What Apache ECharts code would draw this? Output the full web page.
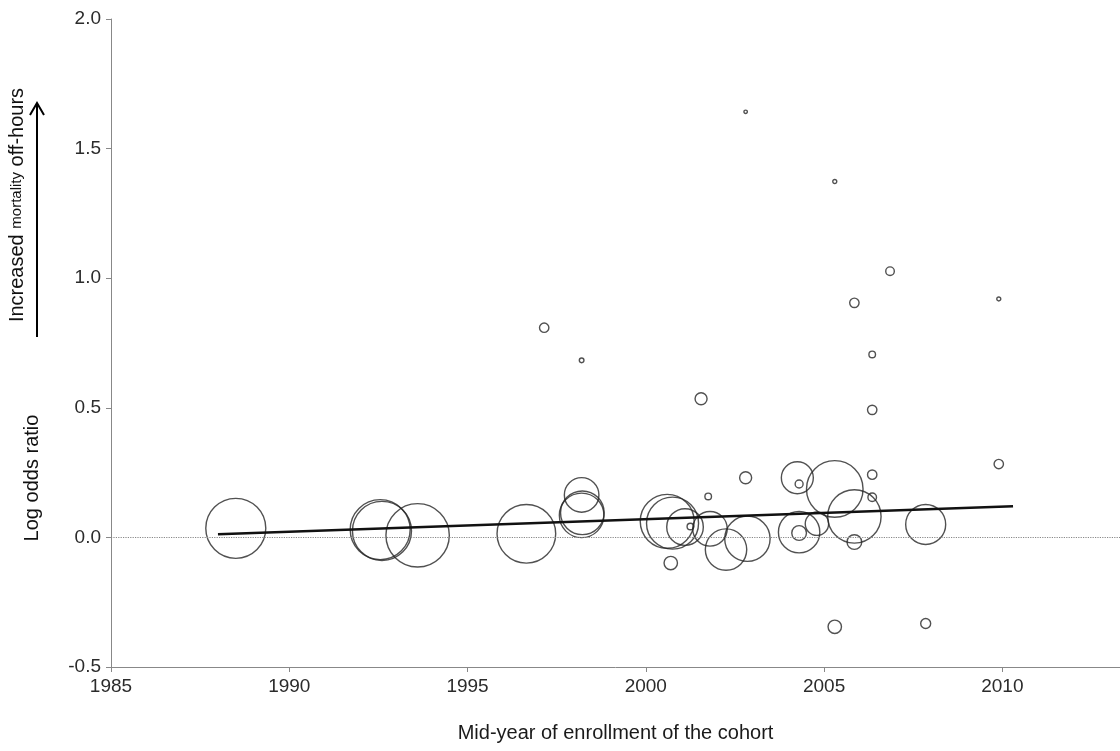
<!DOCTYPE html>
<html>
<head>
<meta charset="utf-8">
<title>Log odds ratio by mid-year of enrollment</title>
<script src="https://cdn.jsdelivr.net/npm/echarts@6/dist/echarts.min.js"></script>
<style>
  html, body { margin: 0; padding: 0; background: #fff; }
  #chart { width: 1120px; height: 751px; }
</style>
</head>
<body>
<div id="chart"></div>
<script>
// mid-year of enrollment of each cohort
const years = [
  1988.5, 1992.55, 1992.6, 1993.6, 1996.65, 1998.2, 1998.2, 1998.22,
  2000.6, 2000.75, 2001.1, 2001.25, 2001.8, 2002.25, 2002.85, 2001.75,
  2002.8, 2000.7, 2004.25, 2005.85, 2006.35, 2006.35, 2009.9, 2009.9,
  2004.3, 2005.3, 2006.35, 2006.35, 2005.85, 2004.3, 2004.3, 2004.8,
  2005.85, 2007.85, 2005.3, 2007.85, 2002.8, 2005.3, 2006.85, 1997.15,
  1998.2, 2001.55
];
// log odds ratio (off-hours vs regular hours)
const logOR = [
  0.035, 0.03, 0.025, 0.008, 0.014, 0.164, 0.085, 0.095,
  0.062, 0.055, 0.04, 0.042, 0.033, -0.047, -0.005, 0.158,
  0.23, -0.099, 0.23, 0.905, 0.706, 0.492, 0.283, 0.92,
  0.206, 0.187, 0.242, 0.155, 0.081, 0.02, 0.017, 0.053,
  -0.018, 0.05, -0.345, -0.332, 1.642, 1.373, 1.027, 0.809,
  0.683, 0.535
];
// study weight (%), shown as bubble area
const weights = [
  25.0, 25.0, 24.2, 27.9, 23.9, 8.3, 13.8, 13.2,
  20.2, 18.8, 9.3, 0.3, 8.3, 11.9, 14.3, 0.3,
  1.0, 1.25, 7.1, 0.61, 0.3, 0.61, 0.61, 0.11,
  0.44, 22.2, 0.61, 0.51, 19.8, 11.9, 1.5, 3.8,
  1.5, 11.1, 1.25, 0.69, 0.08, 0.11, 0.51, 0.61,
  0.15, 1.0
];
// meta-regression fit line
const fitYears = [1988.0, 2010.3];
const fitValues = [0.012, 0.12];

const xTicks = [1985, 1990, 1995, 2000, 2005, 2010];

const font = 'Arial, "Liberation Sans", sans-serif';
const chart = echarts.init(document.getElementById('chart'), null, {renderer: 'canvas'});

const bubbles = years.map((y, i) => [y, logOR[i], weights[i]]);
const fit = fitYears.map((y, i) => [y, fitValues[i]]);

const option = {
  backgroundColor: '#fff',
  animation: false,
  grid: {left: 111, right: 0, top: 19, bottom: 84},
  xAxis: {
    type: 'value',
    min: 1985,
    max: 2013.3,
    interval: 5,
    name: 'Mid-year of enrollment of the cohort',
    nameLocation: 'middle',
    nameGap: 56,
    nameTextStyle: {fontFamily: font, fontSize: 20, color: '#1a1a1a'},
    splitLine: {show: false},
    axisLine: {onZero: false, lineStyle: {color: '#888', width: 1}},
    axisTick: {length: 5, lineStyle: {color: '#888'}},
    axisLabel: {
      fontFamily: font, fontSize: 19, color: '#2b2b2b', margin: 10,
      showMaxLabel: false,
      formatter: v => (xTicks.indexOf(v) >= 0 ? String(v) : '')
    }
  },
  yAxis: {
    type: 'value',
    min: -0.5,
    max: 2.0,
    interval: 0.5,
    splitLine: {show: false},
    axisLine: {show: true, onZero: false, lineStyle: {color: '#888', width: 1}},
    axisTick: {show: true, length: 5, lineStyle: {color: '#888'}},
    axisLabel: {
      fontFamily: font, fontSize: 19, color: '#2b2b2b', margin: 10,
      formatter: v => v.toFixed(1)
    }
  },
  graphic: [
    {
      type: 'text', x: 32, y: 478, rotation: Math.PI / 2,
      style: {
        text: 'Log odds ratio', fontFamily: font, fontSize: 20, fill: '#111',
        align: 'center', verticalAlign: 'middle'
      }
    },
    {
      type: 'text', x: 17, y: 205, rotation: Math.PI / 2,
      style: {
        text: '{a|Increased }{b|mortality}{a| off-hours}',
        align: 'center', verticalAlign: 'middle',
        rich: {
          a: {fontFamily: font, fontSize: 20, fill: '#111', color: '#111'},
          b: {fontFamily: font, fontSize: 15, fill: '#111', color: '#111'}
        }
      }
    },
    {
      type: 'line',
      shape: {x1: 37, y1: 337, x2: 37, y2: 104},
      style: {stroke: '#000', lineWidth: 2}
    },
    {
      type: 'polyline',
      shape: {points: [[30, 115], [37, 103], [44, 115]]},
      style: {stroke: '#000', lineWidth: 2, fill: null}
    }
  ],
  series: [
    {
      type: 'scatter',
      data: bubbles,
      symbol: 'circle',
      symbolSize: d => 12 * Math.sqrt(d[2]),
      itemStyle: {color: 'rgba(0,0,0,0)', borderColor: '#262626', borderWidth: 1.4},
      emphasis: {disabled: true},
      z: 3
    },
    {
      type: 'line',
      data: fit,
      symbol: 'none',
      lineStyle: {color: '#111', width: 2.6},
      silent: true,
      z: 4,
      markLine: {
        silent: true,
        symbol: 'none',
        label: {show: false},
        lineStyle: {color: '#888', type: 'dotted', width: 1.2},
        data: [{yAxis: 0}]
      }
    }
  ]
};

chart.setOption(option);
</script>
</body>
</html>
